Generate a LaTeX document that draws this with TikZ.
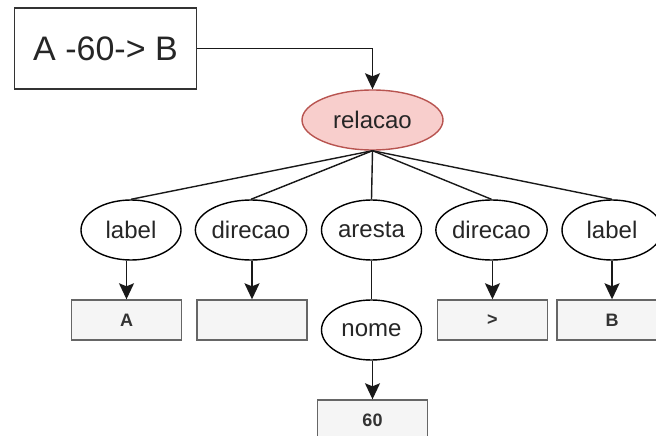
\documentclass[tikz,border=0pt]{standalone}
\usepackage{fontspec}
\setmainfont{Liberation Sans}
\usetikzlibrary{shapes.geometric,arrows.meta}
\definecolor{leafgray}{HTML}{F5F5F5}
\definecolor{leafline}{HTML}{666666}
\definecolor{leaftext}{HTML}{333333}
\definecolor{rootfill}{HTML}{F8CECC}
\definecolor{rootline}{HTML}{B85450}
\tikzset{
  oval/.style={ellipse, draw=black, line width=1.4pt, fill=white,
    minimum width=100pt, minimum height=60pt, inner sep=0pt,
    text=black!85, font=\fontsize{24}{28}\selectfont},
  rootoval/.style={oval, fill=rootfill, draw=rootline, minimum width=141pt},
  leafbox/.style={rectangle, draw=leafline, line width=1.4pt, fill=leafgray,
    minimum width=110pt, minimum height=40pt, inner sep=0pt,
    text=leaftext, font=\bfseries\fontsize{18}{21}\selectfont},
  titlebox/.style={rectangle, draw=black!80, line width=1.5pt, fill=white,
    minimum width=182pt, minimum height=81pt, inner sep=0pt,
    font=\fontsize{34}{40}\selectfont, text=black!85},
  link/.style={line width=1.4pt, draw=black!90},
  arr/.style={link, -{Stealth[length=16pt,width=15pt,inset=3pt]}}
}
\begin{document}
\begin{tikzpicture}[x=1pt,y=-1pt]
\useasboundingbox (0,0) rectangle (656,436);
% source expression
\node[titlebox] (expr) at (105.5,48.5) {A -60-> B};
% parse tree
\node[rootoval] (rel) at (372.5,120) {relacao};
\node[oval] (lab1) at (131,230) {label};
\node[oval] (dir1) at (251,230) {direcao};
\node[oval] (are) at (371.5,230) {aresta};
\node[oval] (dir2) at (491.5,230) {direcao};
\node[oval] (lab2) at (612,230) {label};
\node[oval] (nom) at (371.5,330) {nome};
% token values
\node[leafbox] (vA) at (126.5,320) {A};
\node[leafbox] (vD1) at (252,320) {};
\node[leafbox] (vD2) at (492.5,320) {>};
\node[leafbox] (vB) at (612,320) {B};
\node[leafbox] (v60) at (372.5,420) {60};
% connectors
\draw[arr] (expr.east) -| (rel.north);
\foreach \c in {lab1,dir1,are,dir2,lab2} \draw[link] (rel.south) -- (\c.north);
\draw[link] (are.south) -- (nom.north);
\draw[arr] (vA.north |- lab1.south) -- (vA.north);
\draw[arr] (vD1.north |- dir1.south) -- (vD1.north);
\draw[arr] (vD2.north |- dir2.south) -- (vD2.north);
\draw[arr] (vB.north |- lab2.south) -- (vB.north);
\draw[arr] (v60.north |- nom.south) -- (v60.north);
\end{tikzpicture}
\end{document}
